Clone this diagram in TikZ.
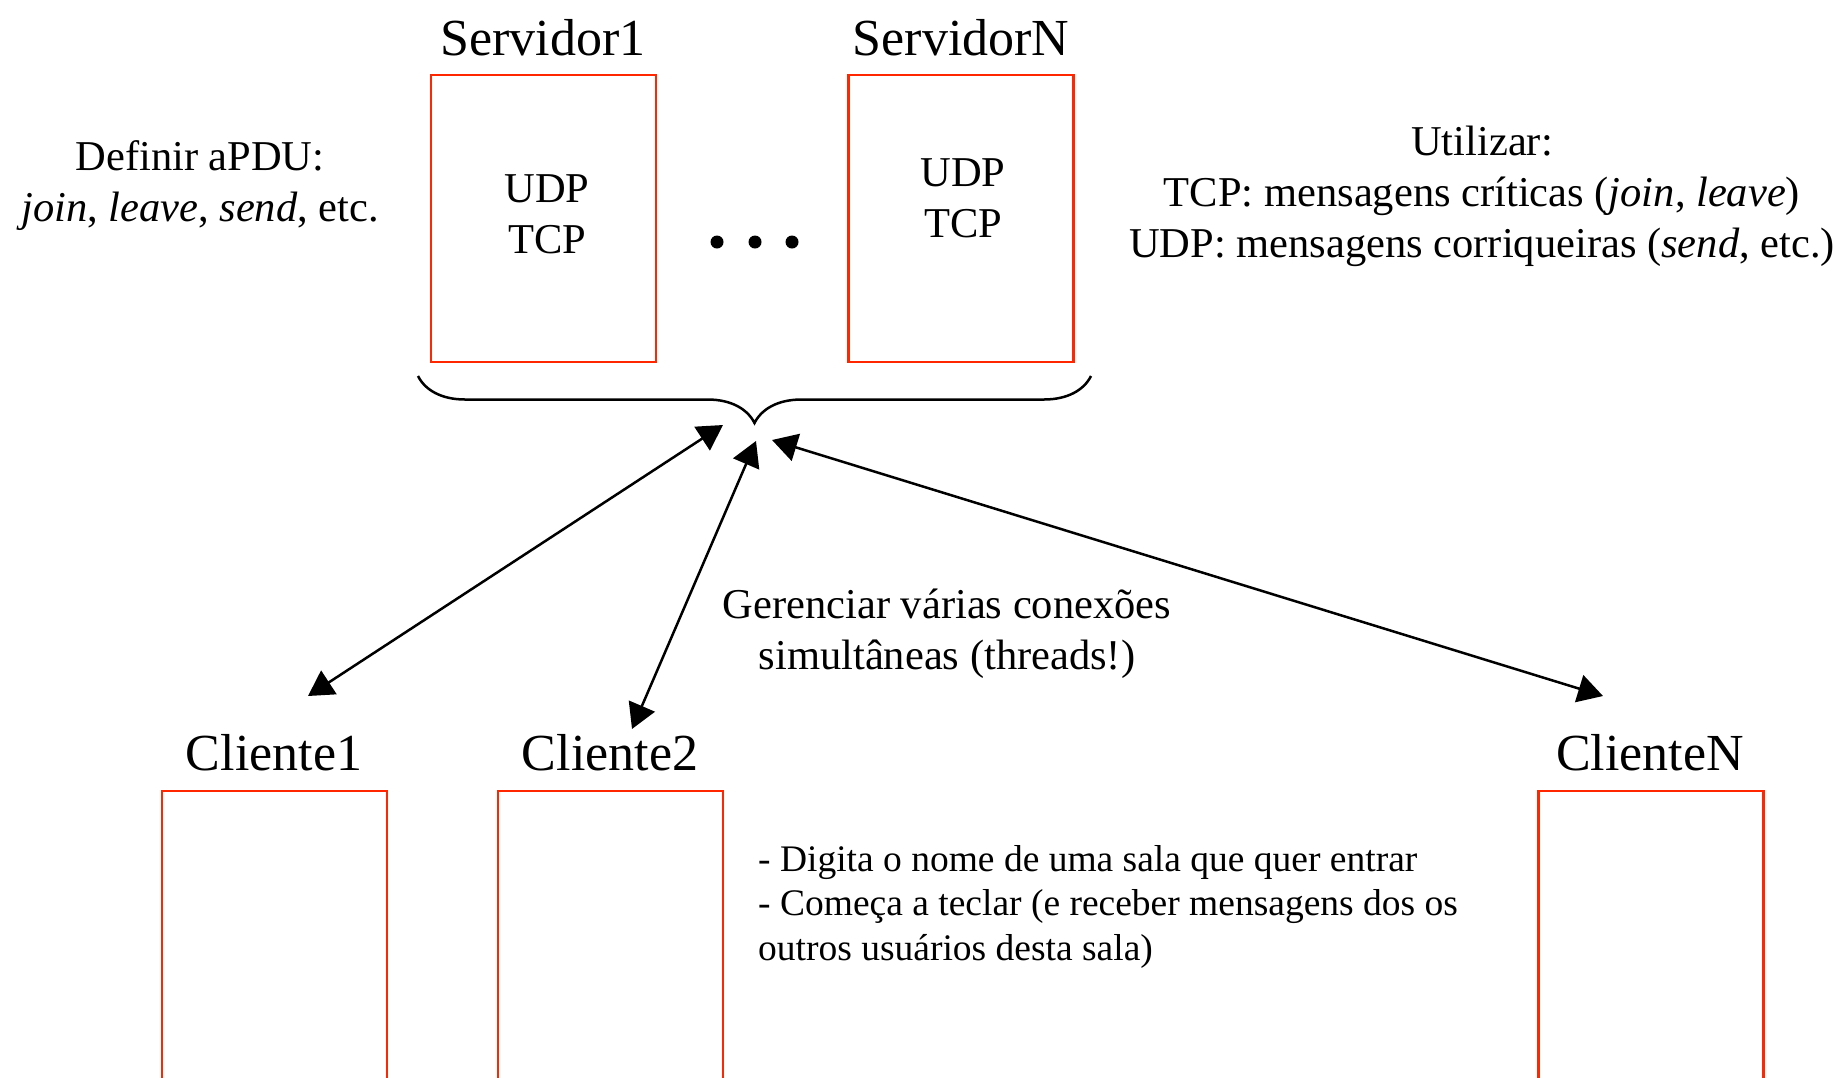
\documentclass[tikz,border=0pt]{standalone}
\usepackage{fontspec}
\setmainfont{Liberation Serif}
\usepackage{tikz}
\usetikzlibrary{arrows.meta,decorations.pathreplacing}
\definecolor{vermelho}{RGB}{255,38,0}
\tikzset{
  caixa_/.style  = {shape=rectangle, draw=vermelho, line width=2.5pt, minimum width=225pt, inner sep=0pt},
  titulo_/.style = {font=\fontsize{52}{60}\selectfont, anchor=base, inner sep=0pt},
  texto_/.style  = {font=\fontsize{42.5}{51}\selectfont, align=center, anchor=base, inner sep=0pt},
  nota_/.style   = {font=\fontsize{37.5}{44.5}\selectfont, align=left, anchor=base west, inner sep=0pt},
  seta_/.style   = {{Triangle[length=25pt,width=28pt]}-{Triangle[length=25pt,width=28pt]}, line width=2.5pt}
}
\begin{document}
\begin{tikzpicture}[x=1pt, y=-1pt]
		\useasboundingbox (0,0) rectangle (1843,1077);
		\clip (0,0) rectangle (1843,1077);
		% servidores
		\node [caixa_, minimum height=287pt] (srv1) at (543.5,218.5) {};
		\node [caixa_, minimum height=287pt] (srvN) at (961,218.5) {};
		\node [titulo_] (nome1) at (543,55) {Servidor1};
		\node [titulo_] (nomeN) at (961,55) {ServidorN};
		\node [texto_] (prot1) at (547,253) {UDP\\TCP};
		\node [texto_] (protN) at (963,237) {UDP\\TCP};
		\foreach \x in {717,755,792}
			\fill (\x,242) circle (6.5pt);
		% clientes
		\node [caixa_, minimum height=420pt] (cli1) at (274.5,1001) {};
		\node [caixa_, minimum height=420pt] (cli2) at (610.5,1001) {};
		\node [caixa_, minimum height=420pt] (cliN) at (1651,1001) {};
		\node [titulo_] (nomec1) at (274,770) {Cliente1};
		\node [titulo_] (nomec2) at (610,770) {Cliente2};
		\node [titulo_] (nomecN) at (1650,770) {ClienteN};
		% chave
		\coordinate (ch1) at (418,376);
		\coordinate (ch2) at (1091,376);
		\draw [decorate, decoration={brace, mirror, amplitude=47pt}, line width=2.5pt] (ch1) -- (ch2);
		% setas
		\coordinate (s1) at (723,425);
		\coordinate (s2) at (756,441);
		\coordinate (s3) at (772,440);
		\coordinate (c1) at (308,696);
		\coordinate (c2) at (632,729);
		\coordinate (c3) at (1603,696);
		\draw [seta_] (c1) -- (s1);
		\draw [seta_] (c2) -- (s2);
		\draw [seta_] (c3) -- (s3);
		% textos
		\node [texto_] (apdu) at (200,221) {Definir aPDU:\\\textit{join}, \textit{leave}, \textit{send}, etc.};
		\node [texto_] (util) at (1482,257) {Utilizar:\\TCP: mensagens críticas (\textit{join}, \textit{leave})\\UDP: mensagens corriqueiras (\textit{send}, etc.)};
		\node [texto_] (threads) at (947,669) {Gerenciar várias conexões\\simultâneas (threads!)};
		\node [nota_] (sala) at (758,960) {- Digita o nome de uma sala que quer entrar\\- Começa a teclar (e receber mensagens dos os\\outros usuários desta sala)};
\end{tikzpicture}
\end{document}
